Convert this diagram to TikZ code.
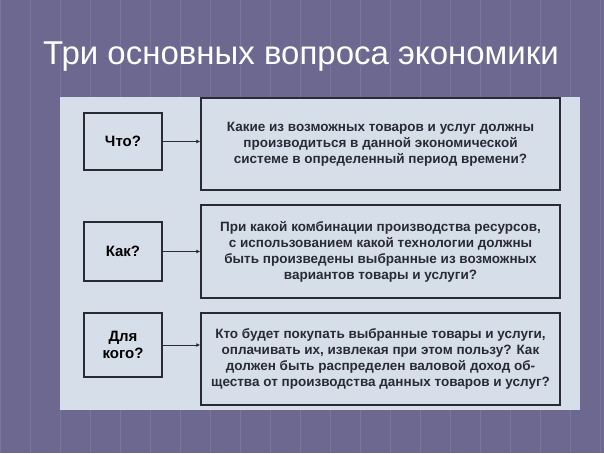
\documentclass[tikz,border=0pt]{standalone}
\usepackage{fontspec}
\setmainfont{Liberation Sans}
\usepackage{tikz}
\usetikzlibrary{arrows.meta}
\definecolor{bgviolet}{HTML}{6C6890}
\definecolor{gridviolet}{HTML}{7A76A0}
\definecolor{panelblue}{HTML}{D6DFE9}
\definecolor{boxline}{HTML}{2A2A35}
\tikzset{
  qbox/.style={draw=boxline, line width=1.4pt, fill=panelblue, font=\bfseries\fontsize{15}{17}\selectfont, align=center},
  abox/.style={draw=boxline, line width=1.4pt, fill=panelblue, text=boxline, font=\bfseries\fontsize{13.5}{16}\selectfont, align=center},
  link/.style={draw=boxline, line width=0.9pt, -{Latex[length=4pt,width=4pt]}}
}
\begin{document}
\begin{tikzpicture}[x=1pt,y=-1pt]
\fill[bgviolet] (0,0) rectangle (604,453);
\useasboundingbox (0,0) rectangle (604,453);
\draw[gridviolet, line width=0.6pt] (0,0) grid[step=30] (604,453);
\node[text=white, font=\fontsize{33}{36}\selectfont] (title) at (301,57) {Три основных вопроса экономики};
\fill[panelblue] (60,97) rectangle (580,410);
% question boxes
\node[qbox, minimum width=78pt, minimum height=57pt] (what) at (123,141.5) {Что?};
\node[qbox, minimum width=78pt, minimum height=59pt] (how) at (123,251.5) {Как?};
\node[qbox, minimum width=78pt, minimum height=64pt] (whom) at (123,345) {Для\\кого?};
% answer boxes
\node[abox, minimum width=359pt, minimum height=92pt] (whatans) at (380.5,144) {Какие из возможных товаров и услуг должны\\производиться в данной экономической\\системе в определенный период времени?};
\node[abox, minimum width=359pt, minimum height=93pt] (howans) at (380.5,251.5) {При какой комбинации производства ресурсов,\\с использованием какой технологии должны\\быть произведены выбранные из возможных\\вариантов товары и услуги?};
\node[abox, minimum width=359pt, minimum height=92pt] (whomans) at (380.5,359) {Кто будет покупать выбранные товары и услуги,\\оплачивать их, извлекая при этом пользу? Как\\должен быть распределен валовой доход об-\\щества от производства данных товаров и услуг?};
\draw[link] (what.east) -- (what.east -| whatans.west);
\draw[link] (how.east) -- (how.east -| howans.west);
\draw[link] (whom.east) -- (whom.east -| whomans.west);
\end{tikzpicture}
\end{document}
